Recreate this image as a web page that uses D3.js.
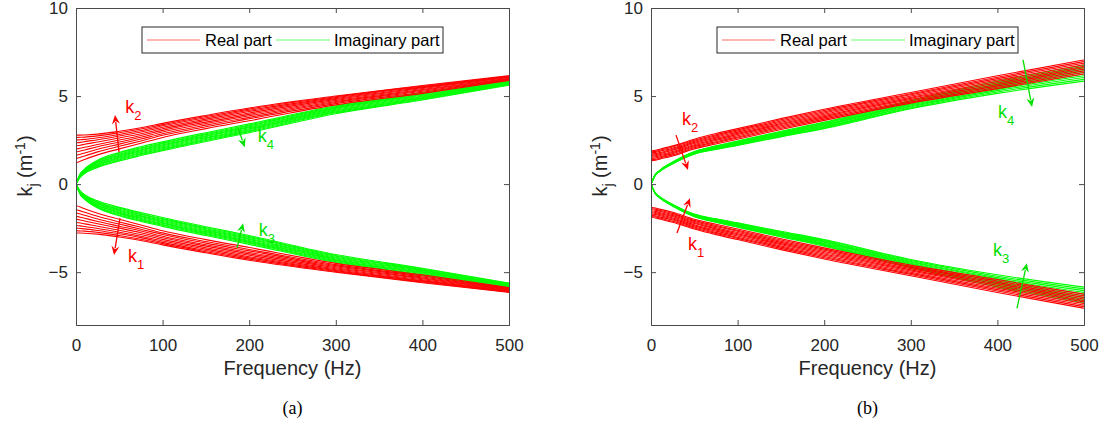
<!DOCTYPE html>
<html><head><meta charset="utf-8">
<script src="https://cdn.jsdelivr.net/npm/d3@7"></script>
<style>
body{margin:0;background:#fff;}
svg{display:block;font-family:"Liberation Sans",Arial,sans-serif;}
</style></head>
<body><svg id="c" width="1104" height="426"></svg>
<script>
// Frequency samples (Hz)
const F = [0,5,10,25,50,75,100,150,200,300,400,500];
const xTicks = [0,100,200,300,400,500];
const yTicks = [-5,0,5,10];
const legendLabels = ["Real part","Imaginary part"];
const captions = ["(a)","(b)"];

// (a) Re k2
const aRe2 = [
[2.78,2.78,2.79,2.84,3.00,3.20,3.45,3.90,4.32,5.00,5.60,6.15],
[2.65,2.66,2.67,2.74,2.92,3.13,3.38,3.84,4.26,4.96,5.56,6.13],
[2.50,2.52,2.54,2.63,2.82,3.04,3.31,3.77,4.19,4.91,5.52,6.10],
[2.35,2.37,2.41,2.52,2.73,2.96,3.23,3.69,4.12,4.86,5.48,6.08],
[2.18,2.21,2.26,2.39,2.62,2.86,3.14,3.61,4.04,4.81,5.43,6.05],
[1.99,2.04,2.09,2.25,2.50,2.76,3.05,3.52,3.96,4.75,5.37,6.01],
[1.82,1.88,1.94,2.12,2.39,2.66,2.96,3.44,3.88,4.69,5.33,5.98],
[1.63,1.70,1.77,1.98,2.27,2.56,2.86,3.35,3.79,4.63,5.27,5.95],
[1.44,1.52,1.60,1.83,2.15,2.45,2.77,3.26,3.71,4.57,5.22,5.92],
[1.21,1.30,1.40,1.66,2.00,2.32,2.65,3.15,3.60,4.50,5.15,5.88]];
// (a) Im k4
const aIm4 = [
[0,0.60,0.87,1.36,1.80,2.12,2.40,2.92,3.42,4.45,5.18,5.92],
[0,0.58,0.84,1.31,1.75,2.06,2.34,2.86,3.36,4.40,5.14,5.89],
[0,0.56,0.81,1.27,1.69,2.01,2.29,2.81,3.31,4.35,5.09,5.85],
[0,0.53,0.78,1.22,1.64,1.95,2.23,2.75,3.25,4.30,5.05,5.82],
[0,0.51,0.75,1.18,1.59,1.90,2.18,2.70,3.20,4.25,5.00,5.79],
[0,0.49,0.72,1.13,1.53,1.84,2.12,2.64,3.14,4.20,4.96,5.75],
[0,0.47,0.69,1.09,1.48,1.79,2.07,2.59,3.09,4.15,4.91,5.72],
[0,0.44,0.66,1.04,1.43,1.73,2.01,2.53,3.03,4.10,4.87,5.69],
[0,0.42,0.63,1.00,1.37,1.68,1.96,2.48,2.98,4.05,4.82,5.65],
[0,0.40,0.60,0.95,1.32,1.62,1.90,2.42,2.92,4.00,4.78,5.62]];
// (a) Re k1
const aRe1 = [
[-2.78,-2.78,-2.79,-2.84,-3.00,-3.20,-3.45,-3.90,-4.32,-5.00,-5.60,-6.15],
[-2.65,-2.66,-2.67,-2.74,-2.92,-3.13,-3.38,-3.84,-4.26,-4.96,-5.56,-6.13],
[-2.50,-2.52,-2.54,-2.63,-2.82,-3.04,-3.31,-3.77,-4.19,-4.91,-5.52,-6.10],
[-2.35,-2.37,-2.41,-2.52,-2.73,-2.96,-3.23,-3.69,-4.12,-4.86,-5.48,-6.08],
[-2.18,-2.21,-2.26,-2.39,-2.62,-2.86,-3.14,-3.61,-4.04,-4.81,-5.43,-6.05],
[-1.99,-2.04,-2.09,-2.25,-2.50,-2.76,-3.05,-3.52,-3.96,-4.75,-5.37,-6.01],
[-1.82,-1.88,-1.94,-2.12,-2.39,-2.66,-2.96,-3.44,-3.88,-4.69,-5.33,-5.98],
[-1.63,-1.70,-1.77,-1.98,-2.27,-2.56,-2.86,-3.35,-3.79,-4.63,-5.27,-5.95],
[-1.44,-1.52,-1.60,-1.83,-2.15,-2.45,-2.77,-3.26,-3.71,-4.57,-5.22,-5.92],
[-1.21,-1.30,-1.40,-1.66,-2.00,-2.32,-2.65,-3.15,-3.60,-4.50,-5.15,-5.88]];
// (a) Im k3
const aIm3 = [
[0,-0.60,-0.87,-1.36,-1.80,-2.12,-2.40,-2.92,-3.42,-4.45,-5.18,-5.92],
[0,-0.58,-0.84,-1.31,-1.75,-2.06,-2.34,-2.86,-3.36,-4.40,-5.14,-5.89],
[0,-0.56,-0.81,-1.27,-1.69,-2.01,-2.29,-2.81,-3.31,-4.35,-5.09,-5.85],
[0,-0.53,-0.78,-1.22,-1.64,-1.95,-2.23,-2.75,-3.25,-4.30,-5.05,-5.82],
[0,-0.51,-0.75,-1.18,-1.59,-1.90,-2.18,-2.70,-3.20,-4.25,-5.00,-5.79],
[0,-0.49,-0.72,-1.13,-1.53,-1.84,-2.12,-2.64,-3.14,-4.20,-4.96,-5.75],
[0,-0.47,-0.69,-1.09,-1.48,-1.79,-2.07,-2.59,-3.09,-4.15,-4.91,-5.72],
[0,-0.44,-0.66,-1.04,-1.43,-1.73,-2.01,-2.53,-3.03,-4.10,-4.87,-5.69],
[0,-0.42,-0.63,-1.00,-1.37,-1.68,-1.96,-2.48,-2.98,-4.05,-4.82,-5.65],
[0,-0.40,-0.60,-0.95,-1.32,-1.62,-1.90,-2.42,-2.92,-4.00,-4.78,-5.62]];

// (b) Re k2
const bRe2 = [
[1.88,1.92,1.98,2.17,2.55,2.87,3.15,3.72,4.25,5.20,6.15,7.05],
[1.82,1.86,1.92,2.11,2.49,2.80,3.08,3.65,4.18,5.13,6.07,6.96],
[1.76,1.80,1.86,2.04,2.43,2.74,3.02,3.58,4.11,5.07,5.99,6.87],
[1.69,1.73,1.79,1.98,2.37,2.67,2.95,3.51,4.04,5.00,5.91,6.78],
[1.63,1.67,1.73,1.92,2.31,2.61,2.88,3.44,3.97,4.93,5.83,6.69],
[1.57,1.61,1.67,1.85,2.24,2.54,2.82,3.38,3.90,4.87,5.74,6.61],
[1.51,1.55,1.61,1.79,2.18,2.48,2.75,3.31,3.83,4.80,5.66,6.52],
[1.44,1.48,1.54,1.73,2.12,2.41,2.68,3.24,3.76,4.73,5.58,6.43],
[1.38,1.42,1.48,1.66,2.06,2.35,2.62,3.17,3.69,4.67,5.50,6.34],
[1.32,1.36,1.42,1.60,2.00,2.28,2.55,3.10,3.62,4.60,5.42,6.25]];
// (b) Im k4
const bIm4 = [
[0,0.54,0.78,1.25,1.85,2.17,2.45,3.00,3.52,4.75,5.85,6.75],
[0,0.54,0.77,1.24,1.83,2.15,2.42,2.96,3.48,4.70,5.77,6.65],
[0,0.53,0.77,1.23,1.82,2.13,2.39,2.93,3.44,4.65,5.69,6.55],
[0,0.53,0.76,1.22,1.80,2.10,2.37,2.89,3.40,4.59,5.62,6.45],
[0,0.52,0.75,1.21,1.78,2.08,2.34,2.86,3.36,4.54,5.54,6.35],
[0,0.52,0.75,1.19,1.77,2.06,2.31,2.82,3.31,4.49,5.46,6.25],
[0,0.51,0.74,1.18,1.75,2.04,2.28,2.79,3.27,4.44,5.38,6.15],
[0,0.51,0.73,1.17,1.73,2.01,2.26,2.75,3.23,4.39,5.31,6.05],
[0,0.50,0.73,1.16,1.72,1.99,2.23,2.72,3.19,4.33,5.23,5.95],
[0,0.50,0.72,1.15,1.70,1.97,2.20,2.68,3.15,4.28,5.15,5.85]];
// (b) Re k1
const bRe1 = [
[-1.88,-1.92,-1.98,-2.17,-2.55,-2.87,-3.15,-3.72,-4.25,-5.20,-6.15,-7.05],
[-1.82,-1.86,-1.92,-2.11,-2.49,-2.80,-3.08,-3.65,-4.18,-5.13,-6.07,-6.96],
[-1.76,-1.80,-1.86,-2.04,-2.43,-2.74,-3.02,-3.58,-4.11,-5.07,-5.99,-6.87],
[-1.69,-1.73,-1.79,-1.98,-2.37,-2.67,-2.95,-3.51,-4.04,-5.00,-5.91,-6.78],
[-1.63,-1.67,-1.73,-1.92,-2.31,-2.61,-2.88,-3.44,-3.97,-4.93,-5.83,-6.69],
[-1.57,-1.61,-1.67,-1.85,-2.24,-2.54,-2.82,-3.38,-3.90,-4.87,-5.74,-6.61],
[-1.51,-1.55,-1.61,-1.79,-2.18,-2.48,-2.75,-3.31,-3.83,-4.80,-5.66,-6.52],
[-1.44,-1.48,-1.54,-1.73,-2.12,-2.41,-2.68,-3.24,-3.76,-4.73,-5.58,-6.43],
[-1.38,-1.42,-1.48,-1.66,-2.06,-2.35,-2.62,-3.17,-3.69,-4.67,-5.50,-6.34],
[-1.32,-1.36,-1.42,-1.60,-2.00,-2.28,-2.55,-3.10,-3.62,-4.60,-5.42,-6.25]];
// (b) Im k3
const bIm3 = [
[0,-0.54,-0.78,-1.25,-1.85,-2.17,-2.45,-3.00,-3.52,-4.75,-5.85,-6.75],
[0,-0.54,-0.77,-1.24,-1.83,-2.15,-2.42,-2.96,-3.48,-4.70,-5.77,-6.65],
[0,-0.53,-0.77,-1.23,-1.82,-2.13,-2.39,-2.93,-3.44,-4.65,-5.69,-6.55],
[0,-0.53,-0.76,-1.22,-1.80,-2.10,-2.37,-2.89,-3.40,-4.59,-5.62,-6.45],
[0,-0.52,-0.75,-1.21,-1.78,-2.08,-2.34,-2.86,-3.36,-4.54,-5.54,-6.35],
[0,-0.52,-0.75,-1.19,-1.77,-2.06,-2.31,-2.82,-3.31,-4.49,-5.46,-6.25],
[0,-0.51,-0.74,-1.18,-1.75,-2.04,-2.28,-2.79,-3.27,-4.44,-5.38,-6.15],
[0,-0.51,-0.73,-1.17,-1.73,-2.01,-2.26,-2.75,-3.23,-4.39,-5.31,-6.05],
[0,-0.50,-0.73,-1.16,-1.72,-1.99,-2.23,-2.72,-3.19,-4.33,-5.23,-5.95],
[0,-0.50,-0.72,-1.15,-1.70,-1.97,-2.20,-2.68,-3.15,-4.28,-5.15,-5.85]];

// annotations: [label, subscript, color, arrow from [f,v], arrow to [f,v], label pos [f,v]]
const annA = [
 ["k","2","#ff0000",[49.7,1.82],[45,3.92],[57,4.03]],
 ["k","4","#00e000",[187,3.18],[195,2.10],[210,2.39]],
 ["k","1","#ff0000",[50.8,-1.93],[43.9,-4.03],[60,-4.43]],
 ["k","3","#00e000",[186,-3.64],[193,-2.22],[211,-2.95]]];
const annB = [
 ["k","2","#ff0000",[28.9,2.78],[42.7,0.80],[35.8,3.35]],
 ["k","1","#ff0000",[30,-2.78],[45,-0.80],[42.7,-3.75]],
 ["k","4","#00e000",[429.6,7.05],[440,4.38],[400.7,3.75]],
 ["k","3","#00e000",[422.6,-7.05],[434,-4.49],[395,-4.09]]];

const RED="#ff0000", GREEN="#00ff00", AX="#4a4a4a";
const svg = d3.select("#c");

function panel(x0,x1,data,ann,cap){
  const x = d3.scaleLinear([0,500],[x0,x1]);
  const y = d3.scaleLinear([-8,10],[325,8]);
  const g = svg.append("g");
  const clip = "clip"+x0;
  g.append("clipPath").attr("id",clip).append("rect")
    .attr("x",x0).attr("y",8).attr("width",x1-x0).attr("height",317);
  const line = d3.line().x((d,i)=>x(F[i])).y(d=>y(d)).curve(d3.curveMonotoneX);
  const cg = g.append("g").attr("clip-path",`url(#${clip})`);
  const [re2,im4,re1,im3] = data;
  const sw = 1.1;
  for(let i=0;i<re2.length;i++){
    cg.append("path").attr("d",line(re2[i])).attr("fill","none").attr("stroke",RED).attr("stroke-width",sw);
    cg.append("path").attr("d",line(im4[i])).attr("fill","none").attr("stroke",GREEN).attr("stroke-width",sw);
    cg.append("path").attr("d",line(re1[i])).attr("fill","none").attr("stroke",RED).attr("stroke-width",sw);
    cg.append("path").attr("d",line(im3[i])).attr("fill","none").attr("stroke",GREEN).attr("stroke-width",sw);
  }
  // axes
  const fs = "17px";
  const ax = g.append("g").attr("transform",`translate(0,325)`)
    .call(d3.axisBottom(x).tickValues(xTicks).tickSize(-5).tickPadding(14));
  const ay = g.append("g").attr("transform",`translate(${x0},0)`)
    .call(d3.axisLeft(y).tickValues(yTicks).tickSize(-5).tickPadding(8));
  const at = g.append("g").attr("transform",`translate(0,8)`)
    .call(d3.axisTop(x).tickValues(xTicks).tickSize(-5).tickFormat(""));
  const ar = g.append("g").attr("transform",`translate(${x1},0)`)
    .call(d3.axisRight(y).tickValues(yTicks).tickSize(-5).tickFormat(""));
  [ax,ay,at,ar].forEach(a=>{
    a.select(".domain").attr("stroke",AX);
    a.selectAll(".tick line").attr("stroke",AX);
    a.selectAll("text").attr("fill","#262626").style("font-size",fs).attr("font-family","Liberation Sans, Arial, sans-serif");
  });
  // labels
  g.append("text").attr("x",(x0+x1)/2).attr("y",375).attr("text-anchor","middle")
    .attr("fill","#262626").style("font-size","20px").text("Frequency (Hz)");
  const yl = g.append("text").attr("transform",`translate(${x0-44},166) rotate(-90)`)
    .attr("text-anchor","middle").attr("fill","#262626").style("font-size","20px");
  yl.append("tspan").text("k");
  yl.append("tspan").attr("dy",6).style("font-size","14px").text("j");
  yl.append("tspan").attr("dy",-6).text(" (m");
  yl.append("tspan").attr("dy",-7).style("font-size","14px").text("-1");
  yl.append("tspan").attr("dy",7).text(")");
  g.append("text").attr("x",(x0+x1)/2).attr("y",414).attr("text-anchor","middle")
    .attr("fill","#000").style("font-size","18px").attr("font-family","Liberation Serif, DejaVu Serif, serif").text(cap);
  // legend
  const lx = x0+66, ly = 27;
  g.append("rect").attr("x",lx).attr("y",ly).attr("width",301).attr("height",26)
    .attr("fill","#fff").attr("stroke","#262626").attr("stroke-width",1);
  g.append("line").attr("x1",lx+5).attr("x2",lx+58).attr("y1",ly+13).attr("y2",ly+13).attr("stroke","#ff6a6a").attr("stroke-width",1.2);
  g.append("text").attr("x",lx+63).attr("y",ly+19).attr("fill","#000").style("font-size","16.5px").text(legendLabels[0]);
  g.append("line").attr("x1",lx+134).attr("x2",lx+188).attr("y1",ly+13).attr("y2",ly+13).attr("stroke","#6aff6a").attr("stroke-width",1.2);
  g.append("text").attr("x",lx+192).attr("y",ly+19).attr("fill","#000").style("font-size","16.5px").text(legendLabels[1]);
  // annotations
  ann.forEach(a=>{
    const [k,sub,col,from,to,lp] = a;
    const X1=x(from[0]),Y1=y(from[1]),X2=x(to[0]),Y2=y(to[1]);
    const ang=Math.atan2(Y2-Y1,X2-X1), L=9, W=4;
    const bx=X2-L*Math.cos(ang), by=Y2-L*Math.sin(ang);
    g.append("line").attr("x1",X1).attr("y1",Y1).attr("x2",bx+2*Math.cos(ang)).attr("y2",by+2*Math.sin(ang))
      .attr("stroke",col).attr("stroke-width",1.3);
    const px=-Math.sin(ang), py=Math.cos(ang);
    const mx=X2-(L-3)*Math.cos(ang), my=Y2-(L-3)*Math.sin(ang);
    g.append("path").attr("d",`M${X2},${Y2}L${bx+W*px},${by+W*py}L${mx},${my}L${bx-W*px},${by-W*py}Z`).attr("fill",col);
    const t = g.append("text").attr("x",x(lp[0])).attr("y",y(lp[1])).attr("fill",col).style("font-size","18px");
    t.append("tspan").text(k);
    t.append("tspan").attr("dy",7).style("font-size","13px").text(sub);
  });
}
panel(76,509,[aRe2,aIm4,aRe1,aIm3],annA,captions[0]);
panel(651,1084,[bRe2,bIm4,bRe1,bIm3],annB,captions[1]);
</script></body></html>
